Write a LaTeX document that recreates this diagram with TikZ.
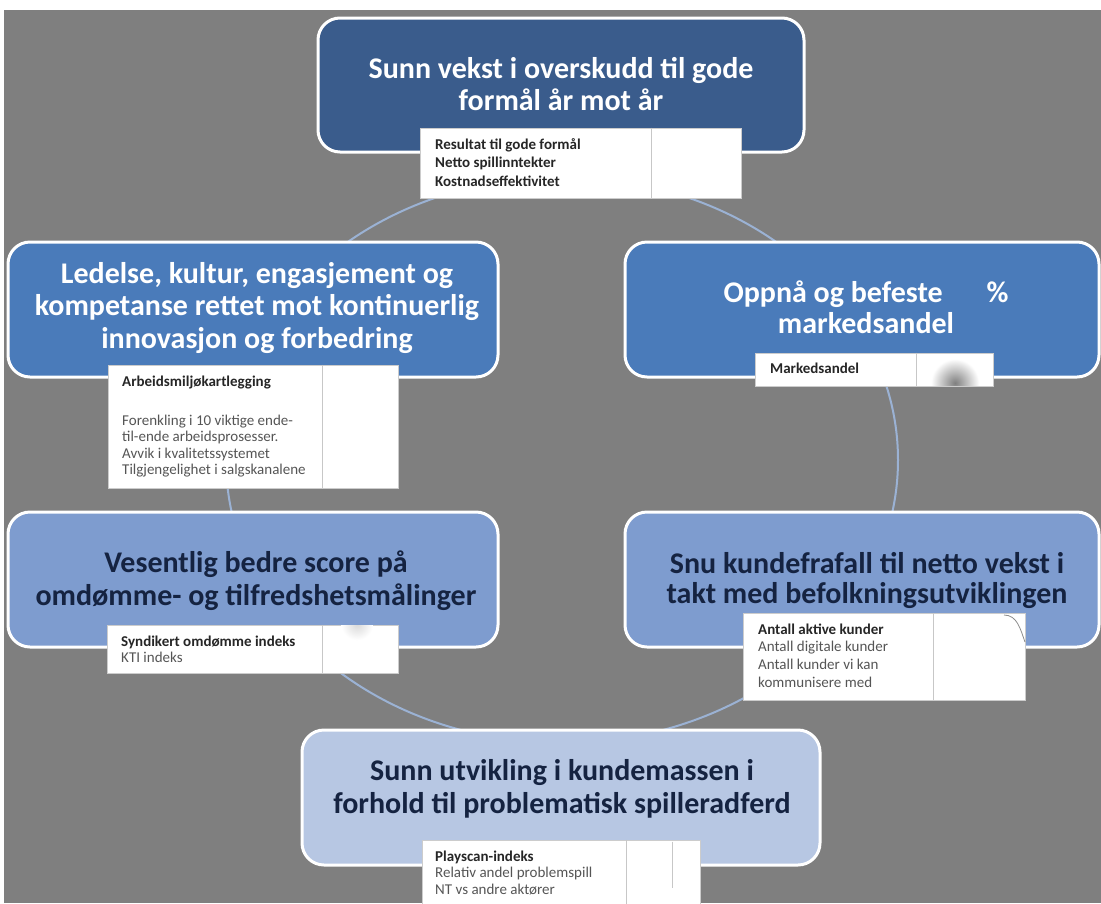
\documentclass[tikz,border=0pt]{standalone}
\usepackage{fontspec}
\setmainfont{Carlito}
\definecolor{bggray}{RGB}{127,127,127}
\definecolor{darkgoal}{RGB}{58,92,140}
\definecolor{midgoal}{RGB}{74,123,186}
\definecolor{lightgoal}{RGB}{126,156,207}
\definecolor{palegoal}{RGB}{183,199,227}
\definecolor{navytext}{RGB}{21,35,65}
\definecolor{ringblue}{RGB}{155,178,212}
\definecolor{celltext}{RGB}{85,85,85}
\begin{document}
\begin{tikzpicture}[x=1pt,y=-1pt,
  goal/.style={draw=white, line width=3pt, rounded corners=22pt, inner sep=0pt},
  goaltext/.style={anchor=base, inner sep=0pt, font=\fontsize{30}{32}\selectfont\bfseries},
  kpibox/.style={draw=black!20, line width=0.6pt, fill=white, inner sep=0pt},
  kpitext/.style={anchor=base west, inner sep=0pt, text=celltext},
  divider/.style={draw=black!22, line width=0.8pt},
  ring/.style={draw=ringblue, line width=2pt}]
\useasboundingbox (0,0) rectangle (1101,903);
\fill[white] (0,0) rectangle (1101,903);
\fill[bggray] (4,10) rectangle (1101,903);

% the cycle linking the six goals
\coordinate (hub) at (562,460);
\draw[ring] (hub) ellipse [x radius=336pt, y radius=283pt];

% goal boxes
\node[goal, fill=darkgoal, minimum width=486pt, minimum height=134pt] (g1) at (561,85) {};
\node[goal, fill=midgoal, minimum width=490pt, minimum height=135pt] (g2) at (253,309.5) {};
\node[goal, fill=midgoal, minimum width=474pt, minimum height=135pt] (g3) at (862,309.5) {};
\node[goal, fill=lightgoal, minimum width=490pt, minimum height=135pt] (g4) at (253,579.5) {};
\node[goal, fill=lightgoal, minimum width=474pt, minimum height=135pt] (g5) at (862,579.5) {};
\node[goal, fill=palegoal, minimum width=518pt, minimum height=135pt] (g6) at (561,797.5) {};

% goal texts
\node[goaltext, text=white] (g1t) at (561,78)
  {\begin{tabular}[t]{@{}c@{}}Sunn vekst i overskudd til gode\\formål år mot år\end{tabular}};
\node[goaltext, text=white, font=\fontsize{30}{32.5}\selectfont\bfseries] (g2t) at (257,283)
  {\begin{tabular}[t]{@{}c@{}}Ledelse, kultur, engasjement og\\kompetanse rettet mot kontinuerlig\\innovasjon og forbedring\end{tabular}};
\node[goaltext, text=white, font=\fontsize{30}{31}\selectfont\bfseries] (g3t) at (866,302)
  {\begin{tabular}[t]{@{}c@{}}Oppnå og befeste\hspace{44pt}\%\\markedsandel\end{tabular}};
\node[goaltext, text=navytext, font=\fontsize{30}{33}\selectfont\bfseries] (g4t) at (256,572)
  {\begin{tabular}[t]{@{}c@{}}Vesentlig bedre score på\\omdømme- og tilfredshetsmålinger\end{tabular}};
\node[goaltext, text=navytext, font=\fontsize{30}{30.5}\selectfont\bfseries] (g5t) at (867,573)
  {\begin{tabular}[t]{@{}c@{}}Snu kundefrafall til netto vekst i\\takt med befolkningsutviklingen\end{tabular}};
\node[goaltext, text=navytext, font=\fontsize{30}{33}\selectfont\bfseries] (g6t) at (562,780)
  {\begin{tabular}[t]{@{}c@{}}Sunn utvikling i kundemassen i\\forhold til problematisk spilleradferd\end{tabular}};

% KPI tables
\node[kpibox, minimum width=321pt, minimum height=70pt] (k1) at (580.5,163) {};
\draw[divider] ([xshift=232pt]k1.north west) -- ([xshift=232pt]k1.south west);
\node[kpitext, text=black!85, font=\fontsize{15}{18.5}\selectfont\bfseries] (k1t) at (435,149)
  {\begin{tabular}[t]{@{}l@{}}Resultat til gode formål\\Netto spillinntekter\\Kostnadseffektivitet\end{tabular}};

\node[kpibox, minimum width=290pt, minimum height=123pt] (k2) at (253,426.5) {};
\draw[divider] ([xshift=215pt]k2.north west) -- ([xshift=215pt]k2.south west);
\node[kpitext, font=\fontsize{15}{16.5}\selectfont] (k2t) at (122,386)
  {\begin{tabular}[t]{@{}l@{}}\textcolor{black!85}{\bfseries Arbeidsmiljøkartlegging}\\[22.5pt]Forenkling i 10 viktige ende-\\til-ende arbeidsprosesser.\\Avvik i kvalitetssystemet\\Tilgjengelighet i salgskanalene\end{tabular}};

\node[kpibox, minimum width=238pt, minimum height=33pt] (k3) at (874,369.5) {};
\begin{scope}
  \clip ([shift={(1pt,-1pt)}]k3.north west) rectangle ([shift={(-1pt,1pt)}]k3.south east);
  \shade[inner color=black!50, outer color=white] (955,383) circle (24pt);
\end{scope}
\draw[divider] ([xshift=162pt]k3.north west) -- ([xshift=162pt]k3.south west);
\node[kpitext, text=black!85, font=\fontsize{15}{17}\selectfont\bfseries] (k3t) at (770,373) {Markedsandel};

\node[kpibox, minimum width=291pt, minimum height=48pt] (k4) at (252.5,649) {};
\begin{scope}
  \clip ([shift={(1pt,-1pt)}]k4.north west) rectangle ([shift={(-1pt,1pt)}]k4.south east);
  \shade[inner color=black!15, outer color=white] (357,624) circle (16pt);
\end{scope}
\draw[divider] ([xshift=216pt]k4.north west) -- ([xshift=216pt]k4.south west);
\node[kpitext, font=\fontsize{15}{16.5}\selectfont] (k4t) at (121,646)
  {\begin{tabular}[t]{@{}l@{}}\textcolor{black!85}{\bfseries Syndikert omdømme indeks}\\KTI indeks\end{tabular}};

\node[kpibox, minimum width=282pt, minimum height=87pt] (k5) at (884,656.5) {};
\draw[divider] ([xshift=191pt]k5.north west) -- ([xshift=191pt]k5.south west);
\draw[black!45, line width=0.8pt] (1004,615) to[out=0, in=110] (1025,642);
\node[kpitext, font=\fontsize{15}{17.7}\selectfont] (k5t) at (758,634)
  {\begin{tabular}[t]{@{}l@{}}\textcolor{black!85}{\bfseries Antall aktive kunder}\\Antall digitale kunder\\Antall kunder vi kan\\kommunisere med\end{tabular}};

\node[kpibox, minimum width=278pt, minimum height=70pt] (k6) at (561,875) {};
\draw[divider] ([xshift=205pt]k6.north west) -- ([xshift=205pt]k6.south west);
\draw[divider] ([xshift=251pt,yshift=-2pt]k6.north west) -- ([xshift=251pt,yshift=-48pt]k6.north west);
\node[kpitext, font=\fontsize{15}{16.5}\selectfont] (k6t) at (435,861)
  {\begin{tabular}[t]{@{}l@{}}\textcolor{black!85}{\bfseries Playscan-indeks}\\Relativ andel problemspill\\NT vs andre aktører\end{tabular}};
\end{tikzpicture}
\end{document}
